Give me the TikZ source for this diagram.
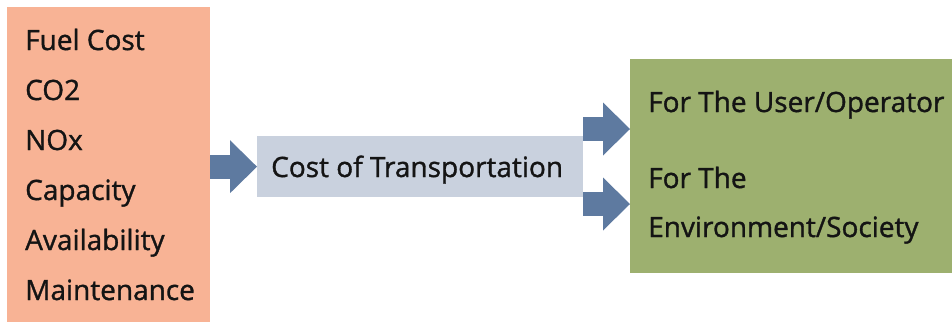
\documentclass[tikz,border=0pt]{standalone}
\usepackage{fontspec}
\setmainfont{Open Sans}
\newfontfamily\heavysans[FakeBold=1.2]{Open Sans}
\usepackage{xcolor}
\usetikzlibrary{arrows.meta}
\definecolor{salmon}{HTML}{F8B395}
\definecolor{slatebox}{HTML}{C9D1DE}
\definecolor{olivebox}{HTML}{9DB06F}
\definecolor{arrowblue}{HTML}{5E7AA0}
\definecolor{inktext}{HTML}{141414}

\tikzset{
  factor/.style={anchor=base west, inner sep=0pt, text=inktext, font=\heavysans\fontsize{28}{30}\selectfont},
  fatarrow/.style={draw=arrowblue, line width=24pt,
    -{Triangle[length=27pt,width=53pt,line width=0pt,fill=arrowblue]}}
}

\begin{document}
\begin{tikzpicture}[x=1pt,y=-1pt]
\useasboundingbox (0,0) rectangle (952,322);

% boxes
\node (inputs) at (7,7) [anchor=north west, fill=salmon, minimum width=203pt, minimum height=315pt, inner sep=0pt]{};
\node (cost) at (257,136) [anchor=north west, fill=slatebox, minimum width=326pt, minimum height=61pt, inner sep=0pt]{};
\node (impact) at (630,59) [anchor=north west, fill=olivebox, minimum width=330pt, minimum height=214pt, inner sep=0pt]{};

% left list
\node (fuel) at (25,50) [factor]{Fuel Cost};
\node (co2) at (25,100) [factor]{CO2};
\node (nox) at (25,150) [factor]{NOx};
\node (capacity) at (25,200) [factor]{Capacity};
\node (avail) at (25,250) [factor]{Availability};
\node (maint) at (25,300) [factor]{Maintenance};

% middle and right texts
\node (costtext) at (271,177) [factor]{Cost of Transportation};
\node (user) at (648,112) [factor]{For The User/Operator};
\node (env1) at (648,188) [factor]{For The};
\node (env2) at (648,237) [factor]{Environment/Society};

% arrows
\coordinate (userin) at (630,129);
\coordinate (envin) at (630,204);
\draw[fatarrow] (inputs.east |- cost.west) -- (cost.west);
\draw[fatarrow] (cost.east |- userin) -- (userin);
\draw[fatarrow] (cost.east |- envin) -- (envin);

\end{tikzpicture}
\end{document}
